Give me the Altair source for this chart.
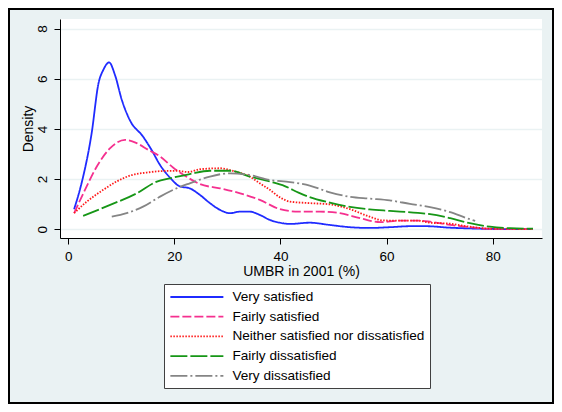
import altair as alt
import pandas as pd

series_names = ["Very satisfied", "Fairly satisfied", "Neither satisfied nor dissatisfied",
                "Fairly dissatisfied", "Very dissatisfied"]
series_colors = ["#1f2bff", "#f5308f", "#ff1a1a", "#169616", "#858585"]
series_dashes = [[1, 0], [9, 3], [1.5, 1.5], [17, 3], [17, 3, 2, 3]]

very_sat_x = [1.1, 2.5, 4.4, 5.7, 6.6, 7.7, 8.8, 10.1, 11.6, 14.1, 15.7, 17.3, 19.2, 21.0, 22.9,
              24.8, 26.7, 28.6, 30.5, 32.4, 34.2, 36.1, 38.0, 39.9, 41.8, 45.5, 49.3, 53.1, 56.8,
              60.6, 64.4, 67.5, 72.0, 76.0, 80.0, 84.0, 87.6]
very_sat_y = [0.80, 1.83, 3.82, 5.82, 6.35, 6.65, 6.15, 5.15, 4.35, 3.69, 3.16, 2.56, 2.05, 1.71, 1.63,
              1.37, 1.04, 0.77, 0.64, 0.70, 0.70, 0.57, 0.37, 0.26, 0.21, 0.26, 0.17, 0.08, 0.05,
              0.08, 0.12, 0.12, 0.06, 0.03, 0.01, 0.0, 0.0]

fairly_sat_x = [1.1, 3.15, 5.35, 7.9, 10.7, 12.9, 15.1, 17.3, 19.8, 22.6, 24.8, 28.6, 32.4, 36.1,
                39.9, 43.4, 47.4, 51.2, 55.0, 58.8, 62.5, 65.9, 68.2, 72.0, 75.7, 79.5, 83.5, 87.6]
fairly_sat_y = [0.64, 1.57, 2.49, 3.23, 3.56, 3.43, 3.16, 2.90, 2.45, 2.05, 1.80, 1.63, 1.43, 1.17,
                0.80, 0.70, 0.70, 0.64, 0.44, 0.28, 0.34, 0.34, 0.30, 0.17, 0.08, 0.02, 0.01, 0.0]

neither_x = [1.1, 3.5, 6.6, 9.1, 12.0, 14.8, 17.9, 20.4, 22.6, 24.8, 28.6, 31.4, 34.2, 36.1, 38.0,
             39.9, 41.8, 45.5, 49.3, 53.1, 56.8, 59.4, 62.5, 65.9, 68.2, 72.0, 75.7, 79.5, 83.5, 87.6]
neither_y = [0.64, 1.10, 1.57, 1.90, 2.16, 2.26, 2.32, 2.33, 2.28, 2.39, 2.43, 2.30, 2.10, 1.83, 1.57,
             1.27, 1.10, 1.04, 0.99, 0.80, 0.50, 0.35, 0.34, 0.34, 0.26, 0.22, 0.10, 0.02, 0.01, 0.0]

fairly_dis_x = [2.8, 7.9, 12.9, 16.7, 19.2, 22.9, 26.7, 30.5, 34.2, 38.0, 40.8, 43.4, 45.5, 49.3,
                53.1, 56.8, 60.6, 65.9, 68.2, 72.0, 75.7, 79.5, 83.3, 87.6]
fairly_dis_y = [0.53, 0.97, 1.43, 1.90, 2.03, 2.20, 2.33, 2.33, 2.10, 1.90, 1.72, 1.46, 1.28, 1.06,
                0.89, 0.79, 0.73, 0.65, 0.60, 0.44, 0.24, 0.10, 0.04, 0.02]

very_dis_x = [8.2, 11.0, 14.1, 17.3, 20.4, 22.9, 26.7, 30.5, 34.2, 38.0, 41.8, 45.5, 49.3, 53.1,
              56.8, 60.6, 64.4, 68.2, 72.0, 75.0, 76.7]
very_dis_y = [0.50, 0.64, 0.90, 1.30, 1.63, 1.83, 2.10, 2.23, 2.16, 1.96, 1.88, 1.74, 1.47, 1.29,
              1.22, 1.15, 1.01, 0.88, 0.68, 0.45, 0.33]

x_ticks = [0, 20, 40, 60, 80]
y_ticks = [0, 2, 4, 6, 8]

all_x = [very_sat_x, fairly_sat_x, neither_x, fairly_dis_x, very_dis_x]
all_y = [very_sat_y, fairly_sat_y, neither_y, fairly_dis_y, very_dis_y]
rows = []
for name, xs, ys in zip(series_names, all_x, all_y):
    for i, (a, b) in enumerate(zip(xs, ys)):
        rows.append({"series": name, "umbr": a, "density": b, "order": i})
df = pd.DataFrame(rows)

FONT = "Liberation Sans"
W, H = 482, 219
PAD = {"left": 52, "top": 11, "right": 12, "bottom": 166}

legend = alt.Legend(
    title=None, orient="none", legendX=104, legendY=265,
    direction="vertical",
    fillColor="#ffffff", strokeColor="#404040",
    padding=5, rowPadding=4.7,
    symbolType="M-1,0H7", symbolSize=175.6, symbolStrokeWidth=1.8,
    labelFont=FONT, labelFontSize=13.6, labelColor="#000000",
    labelOffset=47.4, labelLimit=400,
)

lines = alt.Chart(df).mark_line(strokeWidth=1.8, interpolate="monotone").encode(
    x=alt.X("umbr:Q",
            scale=alt.Scale(domain=[-1.56, 89.3], nice=False, zero=False),
            axis=alt.Axis(values=x_ticks, title="UMBR in 2001 (%)", grid=False,
                          tickSize=6, labelPadding=5, titlePadding=2, labelFontSize=13.5)),
    y=alt.Y("density:Q",
            scale=alt.Scale(domain=[-0.35, 8.38], nice=False, zero=False),
            axis=alt.Axis(values=y_ticks, title="Density", grid=True,
                          labelAngle=270, tickSize=6, labelPadding=5,
                          titleX=-25, titleY=H / 2,
                          labelFontSize=13.5)),
    color=alt.Color("series:N", scale=alt.Scale(domain=series_names, range=series_colors),
                    legend=legend),
    strokeDash=alt.StrokeDash("series:N", scale=alt.Scale(domain=series_names, range=series_dashes),
                              legend=legend),
    order="order:Q",
    detail="series:N",
)

border = alt.Chart(pd.DataFrame({"a": [0]})).mark_rect(
    fill=None, stroke="#000000", strokeWidth=2
).encode(
    x=alt.value(-PAD["left"] + 1), x2=alt.value(W + PAD["right"] - 1),
    y=alt.value(-PAD["top"] + 1), y2=alt.value(H + PAD["bottom"] - 1),
)

chart = alt.layer(lines, border).properties(
    width=W, height=H,
    autosize=alt.AutoSizeParams(type="none"),
    padding=PAD,
    background="#eaf2f3",
).configure_view(
    fill="#ffffff", stroke=None,
).configure_axis(
    labelFont=FONT, titleFont=FONT, titleFontSize=14,
    titleFontWeight="normal", labelColor="#000000", titleColor="#000000",
    domainColor="#000000", tickColor="#000000", domainWidth=1, tickWidth=1,
    gridColor="#eaf2f3", gridWidth=1.5,
).configure_legend(
    strokeWidth=1,
)

chart.save("out.html", embed_options={"renderer": "svg", "actions": False})
